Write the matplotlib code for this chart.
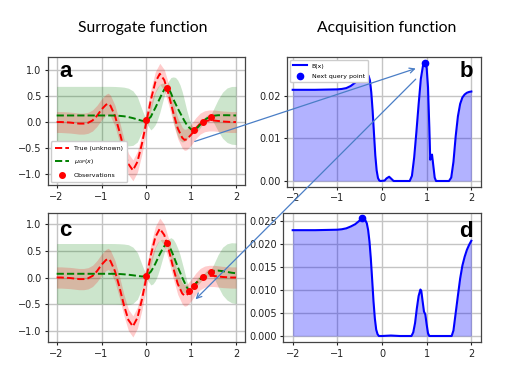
import matplotlib
matplotlib.use("Agg")
import matplotlib.pyplot as plt
from matplotlib.patches import ConnectionPatch
import numpy as np

# true (unknown) function, shared by the two surrogate panels
x_true = [-2.0, -1.9, -1.8, -1.7, -1.6, -1.5, -1.4, -1.3, -1.2, -1.1, -1.0, -0.9, -0.85, -0.8,
          -0.7, -0.6, -0.5, -0.4, -0.3, -0.2, -0.1, 0.0, 0.1, 0.2, 0.3, 0.4, 0.5, 0.6, 0.7,
          0.8, 0.85, 0.9, 1.0, 1.1, 1.2, 1.3, 1.4, 1.5, 1.6, 1.7, 1.8, 1.9, 2.0]
y_true = [0.0, 0.0, -0.005, -0.01, -0.02, -0.03, -0.03, -0.015, 0.03, 0.12, 0.24, 0.33, 0.35, 0.31,
          0.12, -0.18, -0.52, -0.8, -0.92, -0.76, -0.42, 0.0, 0.42, 0.76, 0.92, 0.8, 0.52, 0.18, -0.12,
          -0.3, -0.34, -0.33, -0.24, -0.12, -0.03, 0.015, 0.03, 0.03, 0.02, 0.01, 0.005, 0.0, 0.0]
noise = 0.2

# panel a: GP mean and band half-width
x_a = [-2.0, -1.8, -1.6, -1.4, -1.2, -1.0, -0.9, -0.8, -0.7, -0.6, -0.5, -0.4, -0.3, -0.2, -0.1,
       -0.05, 0.0, 0.05, 0.1, 0.15, 0.2, 0.25, 0.3, 0.35, 0.4, 0.45, 0.5, 0.55, 0.6, 0.65, 0.7,
       0.75, 0.8, 0.85, 0.9, 0.95, 1.0, 1.07, 1.1, 1.16, 1.2, 1.26, 1.3, 1.35, 1.44, 1.5, 1.6,
       1.7, 1.8, 1.9, 2.0]
mu_a = [0.125, 0.125, 0.125, 0.125, 0.125, 0.125, 0.125, 0.125, 0.123, 0.118, 0.11, 0.095, 0.075,
        0.05, 0.025, 0.02, 0.03, 0.06, 0.1, 0.19, 0.27, 0.36, 0.45, 0.54, 0.62, 0.66, 0.63, 0.55,
        0.44, 0.35, 0.26, 0.18, 0.1, 0.02, -0.05, -0.1, -0.14, -0.16, -0.14, -0.09, -0.05, 0.01,
        0.04, 0.07, 0.1, 0.12, 0.13, 0.13, 0.13, 0.128, 0.125]
sd_a = [0.555, 0.555, 0.555, 0.555, 0.555, 0.555, 0.555, 0.555, 0.555, 0.555, 0.555, 0.55, 0.52,
        0.43, 0.22, 0.12, 0.04, 0.15, 0.25, 0.3, 0.32, 0.31, 0.27, 0.2, 0.12, 0.04, 0.16, 0.3,
        0.42, 0.5, 0.54, 0.53, 0.48, 0.39, 0.28, 0.18, 0.09, 0.04, 0.05, 0.07, 0.06, 0.04, 0.05,
        0.06, 0.04, 0.13, 0.3, 0.44, 0.52, 0.55, 0.555]
obs_a_x = [0.0, 0.45, 1.07, 1.26, 1.44]
obs_a_y = [0.03, 0.65, -0.16, 0.01, 0.1]

# panel c: GP after adding the query point
x_c = [-2.0, -1.8, -1.6, -1.4, -1.2, -1.0, -0.9, -0.8, -0.7, -0.6, -0.5, -0.4, -0.3, -0.2, -0.1,
       -0.05, 0.0, 0.05, 0.1, 0.15, 0.2, 0.25, 0.3, 0.35, 0.4, 0.45, 0.5, 0.55, 0.6, 0.65, 0.7,
       0.75, 0.8, 0.85, 0.9, 0.955, 1.0, 1.07, 1.1, 1.16, 1.2, 1.26, 1.3, 1.35, 1.44, 1.5, 1.6,
       1.7, 1.8, 1.9, 2.0]
mu_c = [0.07, 0.07, 0.07, 0.07, 0.07, 0.07, 0.07, 0.07, 0.069, 0.066, 0.06, 0.052, 0.042, 0.03,
        0.02, 0.022, 0.04, 0.07, 0.11, 0.18, 0.26, 0.35, 0.44, 0.52, 0.59, 0.63, 0.6, 0.52, 0.42,
        0.31, 0.2, 0.1, 0.0, -0.09, -0.18, -0.25, -0.22, -0.15, -0.11, -0.06, -0.03, 0.01, 0.04,
        0.07, 0.11, 0.125, 0.13, 0.12, 0.105, 0.09, 0.08]
sd_c = [0.57, 0.57, 0.57, 0.57, 0.57, 0.57, 0.57, 0.57, 0.57, 0.57, 0.57, 0.565, 0.53, 0.44,
        0.23, 0.12, 0.04, 0.15, 0.25, 0.3, 0.32, 0.31, 0.27, 0.2, 0.12, 0.04, 0.13, 0.23, 0.3,
        0.34, 0.35, 0.33, 0.27, 0.2, 0.12, 0.04, 0.05, 0.04, 0.05, 0.07, 0.06, 0.04, 0.05, 0.07,
        0.04, 0.12, 0.3, 0.45, 0.53, 0.565, 0.57]
obs_c_x = [0.0, 0.45, 0.955, 1.07, 1.26, 1.44]
obs_c_y = [0.03, 0.65, -0.25, -0.16, 0.01, 0.1]

# acquisition function B(x), before and after
x_b = [-2.0, -1.5, -1.0, -0.9, -0.8, -0.7, -0.6, -0.5, -0.45, -0.4, -0.35, -0.3, -0.27, -0.24,
       -0.21, -0.18, -0.15, -0.12, -0.09, -0.06, -0.03, 0.06, 0.1, 0.16, 0.22, 0.26, 0.62, 0.67,
       0.72, 0.77, 0.82, 0.87, 0.92, 0.97, 1.0, 1.03, 1.06, 1.08, 1.1, 1.12, 1.15, 1.18, 1.21,
       1.5, 1.55, 1.6, 1.65, 1.7, 1.75, 1.8, 1.85, 1.9, 1.95, 2.0]
y_b = [0.0214, 0.0214, 0.0215, 0.0216, 0.0218, 0.0223, 0.0231, 0.0241, 0.0246, 0.025, 0.0251,
       0.0247, 0.0236, 0.0208, 0.0165, 0.0112, 0.006, 0.0025, 0.0007, 0.0001, 0.0, 0.0001, 0.0006,
       0.001, 0.0004, 0.0, 0.0, 0.0012, 0.0055, 0.0115, 0.018, 0.024, 0.0272, 0.0277, 0.0265,
       0.022, 0.0125, 0.005, 0.0058, 0.0062, 0.0035, 0.0008, 0.0, 0.0, 0.0008, 0.0045, 0.0105,
       0.0152, 0.0181, 0.0196, 0.0203, 0.0207, 0.0209, 0.021]
next_b = (0.97, 0.0277)

x_d = [-2.0, -1.5, -1.0, -0.9, -0.8, -0.7, -0.6, -0.55, -0.5, -0.46, -0.42, -0.38, -0.34, -0.31,
       -0.28, -0.25, -0.22, -0.19, -0.16, -0.13, -0.1, -0.07, 0.0, 0.2, 0.4, 0.66, 0.7, 0.74, 0.78,
       0.82, 0.86, 0.88, 0.91, 0.94, 0.97, 1.0, 1.03, 1.06, 1.56, 1.6, 1.65, 1.7, 1.75, 1.8, 1.85,
       1.9, 1.95, 2.0]
y_d = [0.023, 0.023, 0.0231, 0.0232, 0.0234, 0.0238, 0.0243, 0.0247, 0.0251, 0.0255, 0.0256,
       0.0253, 0.0245, 0.023, 0.0205, 0.0168, 0.0122, 0.0075, 0.0038, 0.0014, 0.0004, 0.0, 0.0,
       0.0001, 0.0, 0.0, 0.0008, 0.0028, 0.006, 0.0087, 0.0101, 0.0098, 0.0075, 0.0053, 0.0047,
       0.0025, 0.0006, 0.0, 0.0, 0.0012, 0.005, 0.0088, 0.0125, 0.0153, 0.0172, 0.0187, 0.0198,
       0.0207]
next_d = (-0.45, 0.0256)

W, H = 513, 378
fig = plt.figure(figsize=(W / 100, H / 100), dpi=100)


def box(left, top, right, bottom):
    # pixel box -> figure fraction rect
    return [left / W, 1 - bottom / H, (right - left) / W, (bottom - top) / H]


def style(ax):
    ax.grid(True, color='#c4c4c4', lw=1)
    ax.set_axisbelow(True)
    ax.tick_params(labelsize=7, length=2.5, pad=2, colors='#222222')
    for s in ax.spines.values():
        s.set_color('#444444')
        s.set_linewidth(0.9)
    ax.set_xticks([-2, -1, 0, 1, 2])


def surrogate(ax, x, mu, sd, ox, oy, legend):
    mu = np.array(mu)
    sd = np.array(sd)
    yt = np.array(y_true)
    ax.fill_between(x, mu - sd, mu + sd, color='green', alpha=0.2, lw=0)
    ax.fill_between(x_true, yt - noise, yt + noise, color='red', alpha=0.2, lw=0)
    ax.plot(x_true, yt, 'r--', lw=1.4, label='True (unknown)')
    ax.plot(x, mu, '--', color='green', lw=1.4, label=r'$\mu_{GP}(x)$')
    ax.plot(ox, oy, 'o', color='red', ms=4, label='Observations')
    ax.set_xlim(-2.2, 2.2)
    style(ax)
    ax.set_yticks([-1.0, -0.5, 0.0, 0.5, 1.0])
    if legend:
        ax.legend(loc='lower left', fontsize=4.5, handlelength=2.2, borderpad=0.7,
                  labelspacing=1.0, framealpha=1)


def acquisition(ax, x, y, nxt, legend):
    ax.fill_between(x, 0, y, color='blue', alpha=0.3, lw=0)
    ax.plot(x, y, color='blue', lw=1.5, label='B(x)')
    ax.plot([nxt[0]], [nxt[1]], 'o', color='blue', ms=4.5, label='Next query point')
    style(ax)
    if legend:
        ax.legend(loc='upper left', fontsize=4.5, handlelength=2.2, borderpad=0.5,
                  labelspacing=0.8, framealpha=1)


ax_a = fig.add_axes(box(47.7, 57, 245, 185.5))
surrogate(ax_a, x_a, mu_a, sd_a, obs_a_x, obs_a_y, True)
ax_a.set_ylim(-1.21, 1.24)

ax_b = fig.add_axes(box(286.7, 57, 480.7, 186.7))
acquisition(ax_b, x_b, y_b, next_b, True)
ax_b.set_xlim(-2.134, 2.21)
ax_b.set_ylim(-0.00134, 0.0291)
ax_b.set_yticks([0.0, 0.01, 0.02])

ax_c = fig.add_axes(box(47.7, 212.7, 245, 342.3))
surrogate(ax_c, x_c, mu_c, sd_c, obs_c_x, obs_c_y, False)
ax_c.set_ylim(-1.22, 1.22)

ax_d = fig.add_axes(box(283.3, 212.7, 480.7, 342.3))
acquisition(ax_d, x_d, y_d, next_d, False)
ax_d.set_xlim(-2.21, 2.21)
ax_d.set_ylim(-0.00137, 0.0268)
ax_d.set_yticks([0.0, 0.005, 0.01, 0.015, 0.02, 0.025])

# panel letters
for ax, lab, px, py, ha in [(ax_a, 'a', 59, 76.7, 'left'), (ax_b, 'b', 473, 76.7, 'right'),
                            (ax_c, 'c', 59, 236, 'left'), (ax_d, 'd', 473, 236.7, 'right')]:
    fig.text(px / W, 1 - py / H, lab, fontsize=16, fontweight='bold', family='Liberation Sans',
             ha=ha, va='baseline')

# column titles
fig.text(143 / W, 1 - 28 / H, 'Surrogate function', fontsize=11.3, family='Lato',
         ha='center', va='center')
fig.text(387 / W, 1 - 28 / H, 'Acquisition function', fontsize=11.3, family='Lato',
         ha='center', va='center')

# arrows linking the panels
arrow_col = '#4a7ec6'
con1 = ConnectionPatch(xyA=(1.08, -0.37), coordsA=ax_a.transData,
                       xyB=(0.755, 0.0264), coordsB=ax_b.transData,
                       arrowstyle='->', color=arrow_col, lw=0.9, mutation_scale=9)
con2 = ConnectionPatch(xyA=(0.755, 0.0239), coordsA=ax_b.transData,
                       xyB=(1.097, -0.41), coordsB=ax_c.transData,
                       arrowstyle='->', color=arrow_col, lw=0.9, mutation_scale=9)
fig.add_artist(con1)
fig.add_artist(con2)

fig.savefig('out.png', dpi=100)
